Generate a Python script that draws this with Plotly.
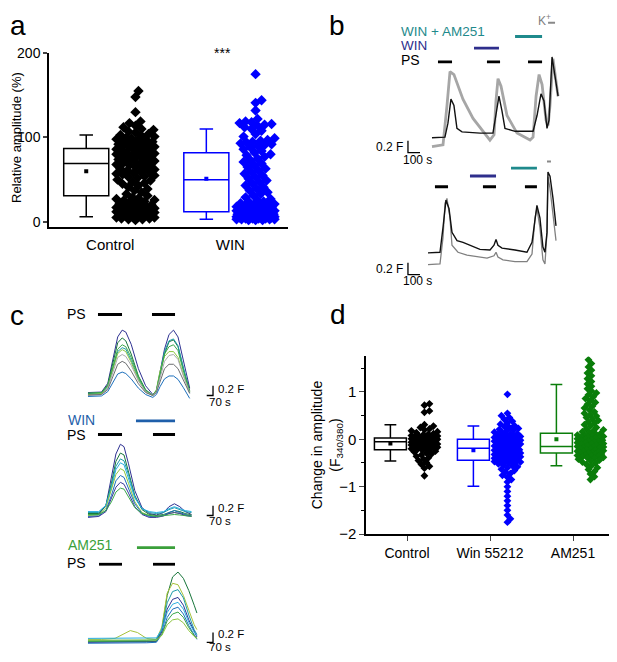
import plotly.graph_objects as go

# target canvas is 617x662; the page body adds an 8 px margin, so the figure is 8 px smaller
PAGE_W, PAGE_H = 617, 662
OFF = 8
W, H = PAGE_W - OFF, PAGE_H - OFF
FONT = "Arial, Liberation Sans, sans-serif"

# ---------------- panel a: relative amplitude (%) ----------------
a_groups = ["Control", "WIN"]
a_q1 = [31, 12]
a_median = [69, 50]
a_q3 = [87, 82]
a_low = [6, 3]
a_high = [103, 110]
a_mean = [60, 51]
a_control = [155, 148, 130, 119, 117, 114, 112, 110, 109, 107, 106, 104, 103, 102, 101, 100, 99, 98,
             97, 97, 96, 95, 94, 93, 93, 92, 91, 90, 89, 89, 88, 87, 86, 85, 85, 84, 83, 82, 81, 81,
             80, 79, 78, 77, 76, 75, 74, 73, 72, 72, 71, 70, 69, 68, 67, 66, 65, 64, 63, 62, 61, 60,
             59, 58, 57, 56, 55, 54, 53, 52, 50, 49, 47, 46, 45, 43, 41, 39, 37, 35, 33, 31, 29, 28,
             27, 26, 25, 24, 23, 22, 21, 20, 20, 19, 18, 18, 17, 16, 16, 15, 15, 14, 14, 13, 13, 12,
             12, 11, 11, 10, 10, 9, 9, 8, 8, 7, 7, 6, 6, 5, 5, 4, 4, 3, 3, 2]
a_win = [175, 144, 141, 132, 122, 119, 118, 117, 116, 115, 114, 112, 110, 108, 104, 101, 99, 97, 96,
         95, 94, 93, 92, 91, 90, 88, 86, 84, 82, 80, 79, 77, 75, 73, 71, 69, 67, 65, 63, 61, 59, 57,
         55, 53, 51, 49, 47, 45, 43, 41, 39, 37, 35, 33, 31, 29, 27, 25, 24, 23, 22, 21, 20, 20, 19,
         19, 18, 18, 17, 17, 16, 16, 15, 15, 14, 14, 13, 13, 12, 12, 11, 11, 11, 10, 10, 10, 9, 9, 9,
         9, 8, 8, 8, 8, 7, 7, 7, 7, 7, 6, 6, 6, 6, 6, 5, 5, 5, 5, 5, 4, 4, 4, 4, 3, 3, 3, 3, 2, 2, 2]

# ---------------- panel d: change in amplitude ----------------
d_groups = ["Control", "Win 55212", "AM251"]
d_q1 = [-0.22, -0.44, -0.29]
d_median = [-0.05, -0.19, -0.15]
d_q3 = [0.03, 0.0, 0.13]
d_low = [-0.46, -0.99, -0.56]
d_high = [0.31, 0.28, 1.16]
d_mean = [-0.09, -0.23, 0.0]
d_control = [0.75, 0.72, 0.60, 0.57, 0.31, 0.28, 0.25, 0.22, 0.20, 0.18, 0.16, 0.14, 0.12, 0.11, 0.10,
             0.08, 0.07, 0.06, 0.05, 0.04, 0.03, 0.02, 0.02, 0.01, 0.00, 0.00, -0.01, -0.02, -0.03,
             -0.03, -0.04, -0.05, -0.06, -0.06, -0.07, -0.08, -0.08, -0.09, -0.10, -0.10, -0.11,
             -0.12, -0.12, -0.13, -0.14, -0.14, -0.15, -0.16, -0.17, -0.18, -0.19, -0.20, -0.21,
             -0.22, -0.23, -0.25, -0.27, -0.29, -0.31, -0.33, -0.36, -0.39, -0.42, -0.45, -0.49,
             -0.53, -0.57, -0.61, -0.77]
d_win = [0.95, 0.55, 0.50, 0.46, 0.42, 0.38, 0.35, 0.32, 0.29, 0.27, 0.25, 0.23, 0.21, 0.19, 0.17,
         0.15, 0.14, 0.12, 0.11, 0.10, 0.08, 0.07, 0.06, 0.05, 0.04, 0.03, 0.02, 0.01, 0.00, -0.01,
         -0.02, -0.03, -0.04, -0.05, -0.06, -0.07, -0.08, -0.09, -0.10, -0.11, -0.12, -0.13, -0.14,
         -0.15, -0.16, -0.17, -0.18, -0.19, -0.20, -0.21, -0.22, -0.23, -0.24, -0.25, -0.26, -0.27,
         -0.28, -0.29, -0.30, -0.31, -0.32, -0.33, -0.34, -0.35, -0.36, -0.37, -0.38, -0.39, -0.40,
         -0.41, -0.42, -0.43, -0.44, -0.45, -0.46, -0.47, -0.48, -0.49, -0.50, -0.52, -0.54, -0.56,
         -0.58, -0.60, -0.63, -0.66, -0.69, -0.72, -0.76, -0.80, -0.85, -0.90, -1.00, -1.10, -1.20,
         -1.30, -1.40, -1.50, -1.60, -1.68, -1.75]
d_am251 = [1.68, 1.60, 1.53, 1.46, 1.40, 1.34, 1.28, 1.22, 1.17, 1.12, 1.07, 1.02, 0.98, 0.94, 0.90,
           0.86, 0.82, 0.78, 0.74, 0.70, 0.66, 0.62, 0.58, 0.55, 0.52, 0.49, 0.46, 0.43, 0.40, 0.37,
           0.34, 0.31, 0.28, 0.25, 0.22, 0.20, 0.18, 0.16, 0.14, 0.12, 0.10, 0.09, 0.08, 0.07, 0.06,
           0.05, 0.04, 0.03, 0.02, 0.01, 0.00, -0.01, -0.02, -0.03, -0.04, -0.05, -0.06, -0.07, -0.08,
           -0.09, -0.10, -0.11, -0.12, -0.13, -0.14, -0.15, -0.16, -0.17, -0.18, -0.19, -0.20, -0.21,
           -0.22, -0.23, -0.24, -0.25, -0.26, -0.27, -0.28, -0.29, -0.30, -0.31, -0.32, -0.33, -0.34,
           -0.35, -0.36, -0.37, -0.38, -0.39, -0.40, -0.42, -0.44, -0.46, -0.48, -0.50, -0.53, -0.56,
           -0.60, -0.64, -0.68, -0.73, -0.79, -0.85]

# ---------------- panel b: example traces (time s, F) ----------------
b1_t_black = [0, 108, 133, 158, 183, 208, 250, 400, 508, 533, 558, 583, 608, 692, 842, 875, 908, 933,
              958, 975, 1000, 1025, 1050]
b1_black = [0.12, 0.13, 0.37, 0.78, 0.67, 0.28, 0.22, 0.20, 0.20, 0.50, 0.83, 0.58, 0.28, 0.23, 0.23,
            0.50, 0.87, 0.75, 0.28, 0.42, 1.50, 1.17, 0.83]
b1_t_grey = [0, 92, 125, 150, 183, 258, 342, 425, 483, 517, 533, 550, 575, 625, 708, 817, 842, 867, 892,
             917, 950, 967, 983, 1008, 1033, 1050]
b1_grey = [-0.03, 0.0, 0.67, 1.25, 1.20, 0.78, 0.45, 0.22, 0.08, 0.17, 0.75, 1.13, 1.00, 0.50, 0.20,
           0.08, 0.13, 0.83, 1.20, 1.03, 0.42, 0.33, 0.67, 1.47, 1.08, 0.83]
b1_ps = [(50, 167), (458, 567), (800, 917)]
b1_win = [(350, 558)]
b1_am = [(692, 917)]
b1_k = [(967, 1025)]

b2_t_black = [0, 100, 125, 150, 175, 200, 242, 292, 433, 517, 550, 567, 583, 617, 725, 825, 867, 892,
              908, 933, 958, 975, 992, 1000, 1017, 1042, 1067]
b2_black = [0.07, 0.08, 0.50, 0.97, 0.83, 0.42, 0.28, 0.25, 0.13, 0.12, 0.20, 0.30, 0.20, 0.15, 0.12,
            0.08, 0.25, 0.67, 0.88, 0.67, 0.17, 0.08, 0.42, 1.45, 1.38, 1.00, 0.53]
b2_t_grey = [0, 100, 125, 142, 158, 183, 200, 250, 325, 492, 550, 567, 583, 625, 725, 825, 867, 892, 908,
             933, 958, 975, 992, 1000, 1017, 1042, 1067]
b2_grey = [-0.13, -0.12, 0.33, 0.92, 1.00, 0.67, 0.20, 0.08, 0.03, -0.02, 0.02, 0.08, 0.00, -0.05,
           -0.08, -0.08, 0.05, 0.67, 0.83, 0.50, -0.05, -0.12, 0.42, 1.37, 1.17, 0.70, 0.28]
b2_ps = [(58, 167), (458, 567), (808, 908)]
b2_win = [(350, 567)]
b2_am = [(692, 908)]
b2_k = [(992, 1025)]

# ---------------- panel c: traces from single cells ----------------
c1_t = [0, 150, 220, 280, 330, 380, 420, 480, 560, 640, 720, 760, 800, 850, 900, 950, 1000, 1060, 1130]
c1_traces = {
    "navy":    [0.06, 0.07, 0.25, 0.75, 1.20, 1.34, 1.30, 1.05, 0.55, 0.20, 0.02, 0.10, 0.45, 0.95, 1.25, 1.34, 1.20, 0.70, 0.15],
    "dkgreen": [0.04, 0.05, 0.22, 0.70, 1.08, 1.18, 1.12, 0.85, 0.40, 0.12, 0.00, 0.08, 0.40, 0.85, 1.10, 1.14, 1.00, 0.55, 0.10],
    "teal":    [0.03, 0.04, 0.18, 0.60, 0.90, 0.98, 0.95, 0.72, 0.35, 0.10, 0.00, 0.10, 0.45, 0.90, 1.12, 1.16, 1.02, 0.55, 0.05],
    "ltgreen": [0.02, 0.04, 0.20, 0.58, 0.86, 0.94, 0.90, 0.68, 0.32, 0.08, 0.00, 0.12, 0.50, 0.80, 0.90, 0.90, 0.78, 0.42, 0.08],
    "green":   [0.05, 0.06, 0.20, 0.62, 0.95, 1.04, 1.00, 0.78, 0.38, 0.10, 0.01, 0.10, 0.42, 0.85, 1.00, 1.04, 0.92, 0.50, 0.08],
    "grey":    [0.00, 0.02, 0.15, 0.50, 0.78, 0.84, 0.80, 0.62, 0.30, 0.08, 0.00, 0.08, 0.35, 0.70, 0.82, 0.84, 0.74, 0.40, 0.06],
    "dkgrey":  [0.01, 0.02, 0.12, 0.40, 0.64, 0.70, 0.66, 0.50, 0.24, 0.06, 0.00, 0.06, 0.28, 0.55, 0.64, 0.64, 0.55, 0.30, 0.04],
    "blue":    [-0.02, -0.01, 0.08, 0.28, 0.44, 0.48, 0.45, 0.34, 0.15, 0.02, -0.04, 0.02, 0.18, 0.34, 0.40, 0.40, 0.33, 0.16, -0.06],
}
c1_ps = [(111, 378), (711, 967)]

c2_t = [0, 120, 200, 260, 310, 360, 400, 450, 520, 600, 680, 760, 840, 900, 960, 1020, 1080, 1150]
c2_traces = {
    "navy":    [0.05, 0.06, 0.25, 0.80, 1.30, 1.50, 1.45, 1.10, 0.55, 0.20, 0.08, 0.05, 0.10, 0.22, 0.28, 0.22, 0.12, 0.06],
    "dkgreen": [0.08, 0.08, 0.25, 0.70, 1.15, 1.32, 1.28, 0.95, 0.45, 0.16, 0.06, 0.04, 0.06, 0.10, 0.14, 0.12, 0.08, 0.05],
    "teal":    [0.10, 0.10, 0.25, 0.65, 1.05, 1.20, 1.16, 0.88, 0.42, 0.18, 0.10, 0.08, 0.10, 0.16, 0.20, 0.16, 0.12, 0.10],
    "cyan":    [0.12, 0.12, 0.25, 0.60, 0.98, 1.12, 1.08, 0.80, 0.40, 0.18, 0.12, 0.10, 0.12, 0.18, 0.22, 0.18, 0.14, 0.12],
    "ltgreen": [0.04, 0.05, 0.20, 0.55, 0.88, 1.00, 0.96, 0.70, 0.32, 0.10, 0.04, 0.02, 0.04, 0.08, 0.10, 0.08, 0.06, 0.04],
    "blue":    [0.02, 0.03, 0.15, 0.45, 0.75, 0.86, 0.82, 0.60, 0.28, 0.08, 0.02, 0.02, 0.04, 0.10, 0.14, 0.10, 0.06, 0.03],
    "navy2":   [0.00, 0.02, 0.12, 0.38, 0.62, 0.72, 0.68, 0.50, 0.22, 0.06, 0.00, 0.00, 0.03, 0.08, 0.10, 0.08, 0.04, 0.02],
    "green":   [0.06, 0.06, 0.14, 0.32, 0.52, 0.60, 0.58, 0.42, 0.20, 0.08, 0.04, 0.02, 0.03, 0.05, 0.06, 0.05, 0.04, 0.02],
}
c2_win = [(533, 967)]
c2_ps = [(111, 378), (722, 967)]

c3_t = [0, 150, 300, 400, 470, 550, 650, 760, 820, 880, 940, 1000, 1060, 1120, 1180, 1210]
c3_traces = {
    "dkgreen": [0.05, 0.05, 0.05, 0.05, 0.05, 0.05, 0.05, 0.06, 0.30, 1.00, 1.38, 1.48, 1.35, 1.10, 0.80, 0.64],
    "olive":   [0.10, 0.10, 0.12, 0.22, 0.28, 0.24, 0.12, 0.10, 0.35, 1.05, 1.25, 1.22, 1.00, 0.70, 0.40, 0.30],
    "teal":    [0.08, 0.08, 0.08, 0.08, 0.08, 0.08, 0.08, 0.10, 0.30, 0.85, 1.08, 1.12, 0.95, 0.60, 0.30, 0.20],
    "navy":    [0.04, 0.04, 0.04, 0.04, 0.04, 0.04, 0.05, 0.06, 0.25, 0.72, 0.92, 0.96, 0.80, 0.50, 0.25, 0.15],
    "cyan":    [0.12, 0.12, 0.12, 0.12, 0.12, 0.12, 0.12, 0.13, 0.30, 0.65, 0.82, 0.86, 0.72, 0.45, 0.25, 0.18],
    "blue":    [0.02, 0.02, 0.02, 0.02, 0.02, 0.02, 0.03, 0.04, 0.20, 0.55, 0.72, 0.76, 0.62, 0.38, 0.18, 0.10],
    "green":   [0.06, 0.06, 0.06, 0.06, 0.06, 0.06, 0.06, 0.07, 0.20, 0.48, 0.62, 0.66, 0.55, 0.34, 0.18, 0.12],
    "ltgreen": [0.08, 0.08, 0.08, 0.08, 0.08, 0.08, 0.08, 0.09, 0.18, 0.40, 0.50, 0.52, 0.44, 0.28, 0.16, 0.12],
}
c3_am = [(544, 967)]
c3_ps = [(122, 378), (722, 967)]

# ---------------- styles ----------------
TRACE_COL = {"navy": "#2e3192", "navy2": "#3a3a9a", "dkgreen": "#17753a", "teal": "#1d9aa8",
             "ltgreen": "#8dc63f", "green": "#39a84a", "grey": "#a7a9ac", "dkgrey": "#6d6e71",
             "blue": "#1c6fbc", "cyan": "#2aaee0", "olive": "#a5c23a"}
TEAL = "#1f8a8c"
NAVY = "#2e2e8c"
BLUE = "#0000ff"
GREEN = "#0a7d0a"


def px(x):
    # page pixel -> paper fraction
    return (x - OFF) / W


def py(y):
    return 1 - (y - OFF) / H


def swarm(vals, center, half_w, ux, uy, gap):
    # simple beeswarm: pick the nearest free offset (pixels) for each value
    order = sorted(range(len(vals)), key=lambda i: vals[i])
    placed = []
    xs = [center] * len(vals)
    cands = [0.0]
    k = 1
    while k <= half_w:
        cands += [k, -k]
        k += 1
    for i in order:
        y = vals[i] * uy
        near = [(a, b) for a, b in placed if abs(b - y) < gap]
        best, best_d = 0.0, -1
        for c in cands:
            d = min([((c - a) ** 2 + (y - b) ** 2) ** 0.5 for a, b in near] or [1e9])
            if d >= gap:
                best = c
                break
            if d > best_d:
                best, best_d = c, d
        placed.append((best, y))
        xs[i] = center + best / ux
    return xs


fig = go.Figure()

# ---- panel a ----
a_xr = [0.49, 2.48]
a_yr = [-5.8, 200]
a_ux = (288 - 49) / (a_xr[1] - a_xr[0])
a_uy = (224 - 46) / (a_yr[1] - a_yr[0])
a_cols = ["black", BLUE]
for i, vals in enumerate([a_control, a_win]):
    pos = i + 1
    fig.add_trace(go.Box(x=[pos - 0.2], q1=[a_q1[i]], median=[a_median[i]], q3=[a_q3[i]],
                         lowerfence=[a_low[i]], upperfence=[a_high[i]], width=0.375,
                         whiskerwidth=0.3, fillcolor="rgba(0,0,0,0)",
                         line=dict(color=a_cols[i], width=1.5), boxpoints=False,
                         xaxis="x", yaxis="y"))
    fig.add_trace(go.Scatter(x=[pos - 0.2], y=[a_mean[i]], mode="markers",
                             marker=dict(symbol="square", size=4, color=a_cols[i]),
                             xaxis="x", yaxis="y"))
    xs = swarm(vals, pos + 0.21, 19, a_ux, a_uy, 6.5)
    fig.add_trace(go.Scatter(x=xs, y=vals, mode="markers",
                             marker=dict(symbol="diamond", size=8, color=a_cols[i]),
                             xaxis="x", yaxis="y"))

# ---- panel d ----
d_xr = [0.506, 3.506]
d_yr = [-2, 1.75]
d_ux = (615 - 366) / (d_xr[1] - d_xr[0])
d_uy = (539 - 357) / (d_yr[1] - d_yr[0])
d_cols = ["black", BLUE, GREEN]
for i, vals in enumerate([d_control, d_win, d_am251]):
    pos = i + 1
    fig.add_trace(go.Box(x=[pos - 0.2], q1=[d_q1[i]], median=[d_median[i]], q3=[d_q3[i]],
                         lowerfence=[d_low[i]], upperfence=[d_high[i]], width=0.385,
                         whiskerwidth=0.37, fillcolor="rgba(0,0,0,0)",
                         line=dict(color=d_cols[i], width=1.5), boxpoints=False,
                         xaxis="x7", yaxis="y7"))
    fig.add_trace(go.Scatter(x=[pos - 0.2], y=[d_mean[i]], mode="markers",
                             marker=dict(symbol="square", size=4, color=d_cols[i]),
                             xaxis="x7", yaxis="y7"))
    xs = swarm(vals, pos + 0.21, 13, d_ux, d_uy, 4.5)
    fig.add_trace(go.Scatter(x=xs, y=vals, mode="markers",
                             marker=dict(symbol="diamond", size=6, color=d_cols[i]),
                             xaxis="x7", yaxis="y7"))


def line(t, v, ax, color, width):
    fig.add_trace(go.Scatter(x=t, y=v, mode="lines", line=dict(color=color, width=width),
                             xaxis="x" + ax, yaxis="y" + ax))


def bars(spans, level, ax, color, width=2.8):
    for s, e in spans:
        line([s, e], [level, level], ax, color, width)


# ---- panel b ----
line(b1_t_grey, b1_grey, "2", "#a6a6a6", 2.8)
line(b1_t_black, b1_black, "2", "#111111", 1.4)
bars(b1_ps, 1.417, "2", "black")
bars(b1_win, 1.65, "2", NAVY)
bars(b1_am, 1.85, "2", TEAL)
bars(b1_k, 2.083, "2", "#888888", 2)

line(b2_t_grey, b2_grey, "3", "#808080", 1.3)
line(b2_t_black, b2_black, "3", "#111111", 1.4)
bars(b2_ps, 1.2, "3", "black")
bars(b2_win, 1.383, "3", NAVY)
bars(b2_am, 1.517, "3", TEAL)
bars(b2_k, 1.633, "3", "#888888", 2)

# ---- panel c ----
for name, v in c1_traces.items():
    line(c1_t, v, "4", TRACE_COL[name], 1)
bars(c1_ps, 1.66, "4", "black")
for name, v in c2_traces.items():
    line(c2_t, v, "5", TRACE_COL[name], 1)
bars(c2_win, 1.98, "5", "#1f5faa")
bars(c2_ps, 1.70, "5", "black")
for name, v in c3_traces.items():
    line(c3_t, v, "6", TRACE_COL[name], 1)
bars(c3_am, 1.98, "6", "#3a9f3a")
bars(c3_ps, 1.64, "6", "black")

# scale bars (data units)
shapes = []
for ax, t0, f0, dt in [("2", -200, -0.133, 100), ("3", -167, -0.30, 100)]:
    shapes.append(dict(type="path", xref="x" + ax, yref="y" + ax,
                       path=f"M {t0},{f0 + 0.2} L {t0},{f0} L {t0 + dt},{f0}",
                       line=dict(color="black", width=1.3)))
for ax, f0 in [("4", 0.0), ("5", 0.04), ("6", 0.04)]:
    t0 = 1389
    shapes.append(dict(type="path", xref="x" + ax, yref="y" + ax,
                       path=f"M {t0 - 70},{f0} L {t0},{f0} L {t0},{f0 + 0.2}",
                       line=dict(color="black", width=1.3)))

ann = []


def text(s, x, y, size=14, color="black", anchor="left", angle=0):
    ann.append(dict(text=s, x=px(x), y=py(y), xref="paper", yref="paper", showarrow=False,
                    xanchor=anchor, yanchor="middle", textangle=angle,
                    font=dict(family=FONT, size=size, color=color)))


text("a", 8, 18, 28)
text("b", 327, 18, 28)
text("c", 8, 315, 28)
text("d", 328, 314, 28)
text("***", 222, 46, 14, anchor="center")
text("Relative amplitude (%)", 17, 133, 13, anchor="center", angle=-90)
text("Change in amplitude<br>(F<sub>340/380</sub>)", 327, 448, 14, anchor="center", angle=-90)

text("WIN + AM251", 399, 24, 13.5, TEAL)
text("WIN", 399, 38, 13.5, NAVY)
text("PS", 399, 53, 14)
text("K<sup>+</sup>", 536, 12, 12, "#808080")
text("0.2 F", 405, 142, 12, anchor="right")
text("100 s", 417, 156, 12, anchor="center")
text("0.2 F", 405, 267, 12, anchor="right")
text("100 s", 417, 280, 12, anchor="center")

text("PS", 65, 313, 14)
text("WIN", 66, 422, 14, "#1f5faa")
text("PS", 65, 437, 14)
text("AM251", 66, 550, 14, "#3a9f3a")
text("PS", 65, 569, 14)
for yy in [390, 512, 641]:
    text("0.2 F", 216, yy, 11.5)
    text("70 s", 207, yy + 14, 11.5)

hidden = dict(visible=False, showgrid=False, zeroline=False)
axline = dict(showline=True, linecolor="black", linewidth=1.5, showgrid=False, zeroline=False,
              tickfont=dict(family=FONT, size=15, color="black"))

fig.update_layout(
    width=W, height=H, autosize=False,
    margin=dict(l=0, r=0, t=0, b=0),
    paper_bgcolor="white", plot_bgcolor="white",
    showlegend=False,
    font=dict(family=FONT, color="black"),
    shapes=shapes, annotations=ann,
    xaxis=dict(axline, domain=[px(49), px(288)], range=a_xr, tickvals=[1, 2], ticktext=a_groups,
               ticks="", ticklabelstandoff=4),
    yaxis=dict(axline, domain=[py(224), py(46)], range=a_yr, tickvals=[0, 100, 200],
               ticks="outside", ticklen=4, tickwidth=1.5, ticklabelstandoff=0, anchor="x",
               tickfont=dict(family=FONT, size=14, color="black")),
    xaxis2=dict(hidden, domain=[px(395), px(565)], range=[-308, 1108], anchor="y2"),
    yaxis2=dict(hidden, domain=[py(160), py(8)], range=[-0.333, 2.2], anchor="x2"),
    xaxis3=dict(hidden, domain=[px(395), px(565)], range=[-275, 1142], anchor="y3"),
    yaxis3=dict(hidden, domain=[py(290), py(150)], range=[-0.583, 1.75], anchor="x3"),
    xaxis4=dict(hidden, domain=[px(60), px(260)], range=[-311, 1911], anchor="y4"),
    yaxis4=dict(hidden, domain=[py(410), py(300)], range=[-0.26, 1.94], anchor="x4"),
    xaxis5=dict(hidden, domain=[px(60), px(260)], range=[-311, 1911], anchor="y5"),
    yaxis5=dict(hidden, domain=[py(530), py(412)], range=[-0.16, 2.2], anchor="x5"),
    xaxis6=dict(hidden, domain=[px(60), px(260)], range=[-311, 1911], anchor="y6"),
    yaxis6=dict(hidden, domain=[py(662), py(540)], range=[-0.2, 2.24], anchor="x6"),
    xaxis7=dict(axline, domain=[px(366), px(615)], range=d_xr, tickvals=[1, 2, 3],
                ticktext=d_groups, ticks="outside", ticklen=5, tickwidth=1.2, anchor="y7",
                tickfont=dict(family=FONT, size=14, color="black")),
    yaxis7=dict(axline, domain=[py(539), py(357)], range=d_yr, tickvals=[-2, -1, 0, 1],
                ticks="outside", ticklen=5, tickwidth=1.2, anchor="x7",
                tickfont=dict(family=FONT, size=15, color="black"),
                minor=dict(tickvals=[-1.5, -0.5, 0.5, 1.5], ticks="outside", ticklen=3,
                           tickwidth=1.2, tickcolor="black")),
)

fig.write_html("out.html")
